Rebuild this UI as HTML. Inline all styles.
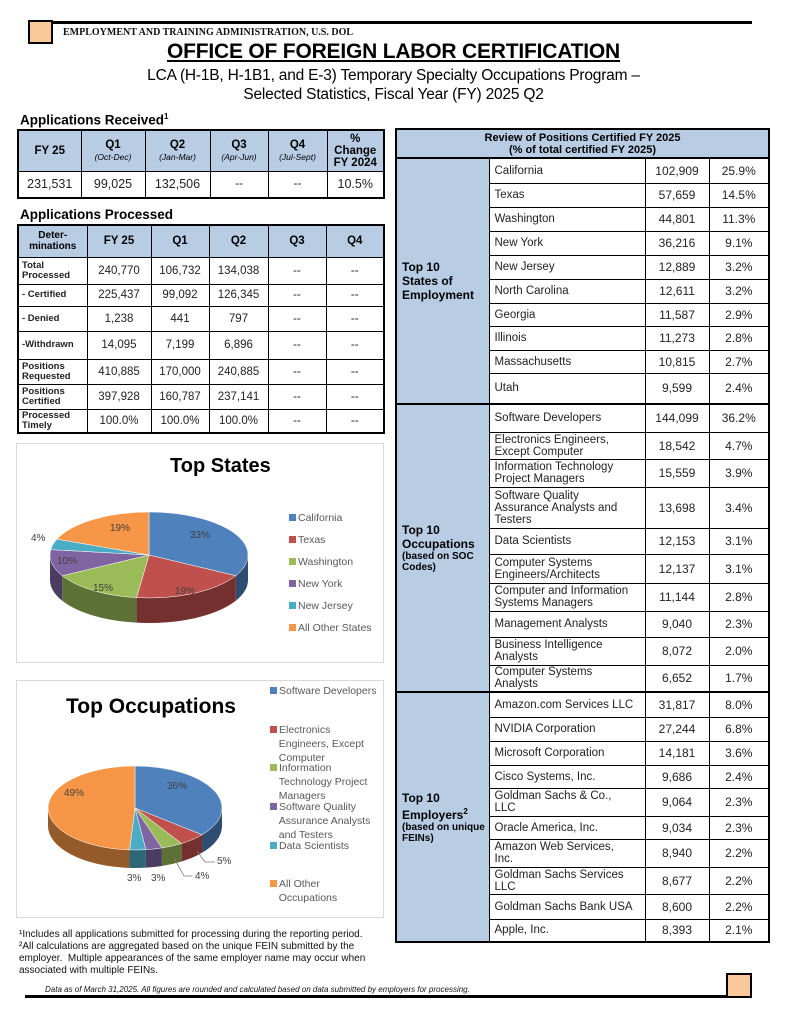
<!DOCTYPE html>
<html><head><meta charset="utf-8">
<style>
*{margin:0;padding:0;box-sizing:border-box}
body{width:787px;height:1024px;background:#fff;position:relative;overflow:hidden;font-family:"Liberation Sans",Arial,sans-serif;color:#000}
.abs{position:absolute}
table{border-collapse:collapse;position:absolute;table-layout:fixed}
td{padding:0;text-align:center;vertical-align:middle;border:1px solid #000;font-size:11.5px;line-height:12px;color:#222;overflow:hidden}
.hd{background:#b8cce4;font-weight:bold;color:#000}
.sub{font-size:8.5px;font-style:italic;font-weight:normal;display:block}
.lb{text-align:left;padding-left:3px;font-weight:bold;font-size:9.5px;line-height:10px}
.nm{text-align:left;padding-left:5px;padding-right:6px;font-size:11.5px;line-height:12px}
.rt td{font-size:12px}
.rt td.nm{font-size:11.5px}
.cat{background:#b8cce4;text-align:left;vertical-align:middle;padding-left:5px;font-weight:bold;font-size:12.5px;line-height:14px;color:#000}
.cat small{font-size:10px;line-height:11px;display:block}
.sep td{border-top:2px solid #000}
.leg{position:absolute;font-size:10.5px;color:#595959;line-height:14px}
.sq{display:inline-block;width:7px;height:7px;margin-right:2px}
</style></head><body>
<div class="abs" style="left:28px;top:20px;width:25px;height:24px;background:#fbc89a;border:2px solid #000"></div>
<div class="abs" style="left:52px;top:21px;width:700px;height:3px;background:#000"></div>
<div class="abs" style="left:63px;top:27px;font-family:'Liberation Serif',serif;font-weight:bold;font-size:10px;color:#111">EMPLOYMENT AND TRAINING ADMINISTRATION, U.S. DOL</div>
<div class="abs" style="left:0;width:787px;top:40px;text-align:center;font-weight:bold;font-size:21px;text-decoration:underline;letter-spacing:-0.2px">OFFICE OF FOREIGN LABOR CERTIFICATION</div>
<div class="abs" style="left:0;width:787px;top:66px;text-align:center;font-size:15.5px;line-height:19px;letter-spacing:-0.2px">LCA (H-1B, H-1B1, and E-3) Temporary Specialty Occupations Program –<br>Selected Statistics, Fiscal Year (FY) 2025 Q2</div>

<div class="abs" style="left:20px;top:112px;font-weight:bold;font-size:13.5px">Applications Received<sup style="font-size:8px">1</sup></div>
<table style="left:17px;top:129px;width:366px;border:2px solid #000">
<colgroup><col style="width:63px"><col style="width:64px"><col style="width:65px"><col style="width:58px"><col style="width:59px"><col style="width:57px"></colgroup>
<tr style="height:41px"><td class="hd">FY 25</td><td class="hd">Q1<span class="sub">(Oct-Dec)</span></td><td class="hd">Q2<span class="sub">(Jan-Mar)</span></td><td class="hd">Q3<span class="sub">(Apr-Jun)</span></td><td class="hd">Q4<span class="sub">(Jul-Sept)</span></td><td class="hd">%<br>Change<br>FY 2024</td></tr>
<tr style="height:27px"><td style="font-size:12.5px">231,531</td><td style="font-size:12.5px">99,025</td><td style="font-size:12.5px">132,506</td><td>--</td><td>--</td><td style="font-size:12.5px">10.5%</td></tr>
</table>

<div class="abs" style="left:20px;top:207px;font-weight:bold;font-size:13.5px">Applications Processed</div>
<table style="left:17px;top:224px;width:366px;border:2px solid #000">
<colgroup><col style="width:69px"><col style="width:64px"><col style="width:58px"><col style="width:59px"><col style="width:58px"><col style="width:58px"></colgroup>
<tr style="height:32px"><td class="hd" style="font-size:10px;line-height:11px">Deter-<br>minations</td><td class="hd">FY 25</td><td class="hd">Q1</td><td class="hd">Q2</td><td class="hd">Q3</td><td class="hd">Q4</td></tr>
<tr style="height:27px"><td class="lb">Total<br>Processed</td><td>240,770</td><td>106,732</td><td>134,038</td><td>--</td><td>--</td></tr>
<tr style="height:22px"><td class="lb">- Certified</td><td>225,437</td><td>99,092</td><td>126,345</td><td>--</td><td>--</td></tr>
<tr style="height:25px"><td class="lb">- Denied</td><td>1,238</td><td>441</td><td>797</td><td>--</td><td>--</td></tr>
<tr style="height:28px"><td class="lb">-Withdrawn</td><td>14,095</td><td>7,199</td><td>6,896</td><td>--</td><td>--</td></tr>
<tr style="height:25px"><td class="lb">Positions<br>Requested</td><td>410,885</td><td>170,000</td><td>240,885</td><td>--</td><td>--</td></tr>
<tr style="height:25px"><td class="lb">Positions<br>Certified</td><td>397,928</td><td>160,787</td><td>237,141</td><td>--</td><td>--</td></tr>
<tr style="height:24px"><td class="lb">Processed<br>Timely</td><td>100.0%</td><td>100.0%</td><td>100.0%</td><td>--</td><td>--</td></tr>
</table>

<table class="rt" style="left:395px;top:128px;width:373px;border:2px solid #000">
<colgroup><col style="width:93px"><col style="width:156px"><col style="width:64px"><col style="width:60px"></colgroup>
<tr style="height:29px"><td colspan="4" class="hd" style="font-size:11px;line-height:12px;border-bottom:2px solid #000">Review of Positions Certified FY 2025<br>(% of total certified FY 2025)</td></tr>
<tr style="height:25px"><td rowspan="10" class="cat">Top 10<br>States of<br>Employment</td><td class="nm">California</td><td>102,909</td><td>25.9%</td></tr>
<tr style="height:24px"><td class="nm">Texas</td><td>57,659</td><td>14.5%</td></tr>
<tr style="height:24px"><td class="nm">Washington</td><td>44,801</td><td>11.3%</td></tr>
<tr style="height:24px"><td class="nm">New York</td><td>36,216</td><td>9.1%</td></tr>
<tr style="height:24px"><td class="nm">New Jersey</td><td>12,889</td><td>3.2%</td></tr>
<tr style="height:24px"><td class="nm">North Carolina</td><td>12,611</td><td>3.2%</td></tr>
<tr style="height:23px"><td class="nm">Georgia</td><td>11,587</td><td>2.9%</td></tr>
<tr style="height:24px"><td class="nm">Illinois</td><td>11,273</td><td>2.8%</td></tr>
<tr style="height:23px"><td class="nm">Massachusetts</td><td>10,815</td><td>2.7%</td></tr>
<tr style="height:31px"><td class="nm">Utah</td><td>9,599</td><td>2.4%</td></tr>
<tr class="sep" style="height:28px"><td rowspan="10" class="cat">Top 10<br>Occupations<small>(based on SOC Codes)</small></td><td class="nm">Software Developers</td><td>144,099</td><td>36.2%</td></tr>
<tr style="height:27px"><td class="nm">Electronics Engineers,<br>Except Computer</td><td>18,542</td><td>4.7%</td></tr>
<tr style="height:28px"><td class="nm">Information Technology<br>Project Managers</td><td>15,559</td><td>3.9%</td></tr>
<tr style="height:41px"><td class="nm">Software Quality<br>Assurance Analysts and<br>Testers</td><td>13,698</td><td>3.4%</td></tr>
<tr style="height:26px"><td class="nm">Data Scientists</td><td>12,153</td><td>3.1%</td></tr>
<tr style="height:29px"><td class="nm">Computer Systems<br>Engineers/Architects</td><td>12,137</td><td>3.1%</td></tr>
<tr style="height:28px"><td class="nm">Computer and Information<br>Systems Managers</td><td>11,144</td><td>2.8%</td></tr>
<tr style="height:26px"><td class="nm">Management Analysts</td><td>9,040</td><td>2.3%</td></tr>
<tr style="height:28px"><td class="nm">Business Intelligence<br>Analysts</td><td>8,072</td><td>2.0%</td></tr>
<tr style="height:27px"><td class="nm">Computer Systems<br>Analysts</td><td>6,652</td><td>1.7%</td></tr>
<tr class="sep" style="height:25px"><td rowspan="10" class="cat">Top 10<br>Employers<sup style="font-size:8px">2</sup><small>(based on unique FEINs)</small></td><td class="nm" style="white-space:nowrap">Amazon.com Services LLC</td><td>31,817</td><td>8.0%</td></tr>
<tr style="height:24px"><td class="nm">NVIDIA Corporation</td><td>27,244</td><td>6.8%</td></tr>
<tr style="height:24px"><td class="nm">Microsoft Corporation</td><td>14,181</td><td>3.6%</td></tr>
<tr style="height:23px"><td class="nm">Cisco Systems, Inc.</td><td>9,686</td><td>2.4%</td></tr>
<tr style="height:28px"><td class="nm">Goldman Sachs &amp; Co.,<br>LLC</td><td>9,064</td><td>2.3%</td></tr>
<tr style="height:23px"><td class="nm">Oracle America, Inc.</td><td>9,034</td><td>2.3%</td></tr>
<tr style="height:28px"><td class="nm">Amazon Web Services,<br>Inc.</td><td>8,940</td><td>2.2%</td></tr>
<tr style="height:27px"><td class="nm">Goldman Sachs Services<br>LLC</td><td>8,677</td><td>2.2%</td></tr>
<tr style="height:25px"><td class="nm" style="white-space:nowrap">Goldman Sachs Bank USA</td><td>8,600</td><td>2.2%</td></tr>
<tr style="height:23px"><td class="nm">Apple, Inc.</td><td>8,393</td><td>2.1%</td></tr>
</table>

<div class="abs" style="left:16px;top:443px;width:368px;height:220px;border:1px solid #d9d9d9"></div>
<div class="abs" style="left:16px;top:680px;width:368px;height:238px;border:1px solid #d9d9d9"></div>
<div class="abs" style="left:170px;top:455px;font-weight:bold;font-size:20px">Top States</div>
<div class="abs" style="left:66px;top:695px;font-weight:bold;font-size:21px">Top Occupations</div>

<svg class="abs" style="left:0;top:0" width="787" height="1024" id="pies" font-family="Liberation Sans, sans-serif" font-size="10" fill="#404040">
<text x="190" y="538" fill="#404040">33%</text>
<text x="175" y="594">19%</text>
<text x="93" y="591">15%</text>
<text x="57" y="564">10%</text>
<text x="110" y="531">19%</text>
<text x="31" y="541">4%</text>
<text x="167" y="789">36%</text>
<text x="64" y="796">49%</text>
<text x="217" y="864">5%</text>
<text x="195" y="879">4%</text>
<text x="127" y="881">3%</text>
<text x="151" y="881">3%</text>
<polyline points="197,851 205,862 215,862" fill="none" stroke="#7f7f7f" stroke-width="0.8"/>
<polyline points="174,858 184,876 192,876" fill="none" stroke="#7f7f7f" stroke-width="0.8"/>
</svg>

<div class="leg" style="left:289px;top:511px">
<div style="height:22px"><span class="sq" style="background:#4f81bd"></span>California</div>
<div style="height:22px"><span class="sq" style="background:#c0504d"></span>Texas</div>
<div style="height:22px"><span class="sq" style="background:#9bbb59"></span>Washington</div>
<div style="height:22px"><span class="sq" style="background:#8064a2"></span>New York</div>
<div style="height:22px"><span class="sq" style="background:#4bacc6"></span>New Jersey</div>
<div style="height:22px"><span class="sq" style="background:#f79646"></span>All Other States</div>
</div>
<div class="leg" style="left:270px;top:684px">
<div style="height:39px"><span class="sq" style="background:#4f81bd"></span>Software Developers</div>
<div style="position:absolute;top:39px;width:110px"><span class="sq" style="background:#c0504d"></span>Electronics<br>&nbsp;&nbsp;&nbsp;Engineers, Except<br>&nbsp;&nbsp;&nbsp;Computer</div>
<div style="position:absolute;top:77px;width:110px"><span class="sq" style="background:#9bbb59"></span>Information<br>&nbsp;&nbsp;&nbsp;Technology Project<br>&nbsp;&nbsp;&nbsp;Managers</div>
<div style="position:absolute;top:116px;width:110px"><span class="sq" style="background:#8064a2"></span>Software Quality<br>&nbsp;&nbsp;&nbsp;Assurance Analysts<br>&nbsp;&nbsp;&nbsp;and Testers</div>
<div style="position:absolute;top:155px;width:110px"><span class="sq" style="background:#4bacc6"></span>Data Scientists</div>
<div style="position:absolute;top:193px;width:110px"><span class="sq" style="background:#f79646"></span>All Other<br>&nbsp;&nbsp;&nbsp;Occupations</div>
</div>

<div class="abs" style="left:19px;top:929px;font-size:10px;line-height:12px;color:#111">¹Includes all applications submitted for processing during the reporting period.<br>²All calculations are aggregated based on the unique FEIN submitted by the<br>employer.&nbsp; Multiple appearances of the same employer name may occur when<br>associated with multiple FEINs.</div>
<div class="abs" style="left:45px;top:985px;font-size:8px;font-style:italic;color:#111">Data as of March 31,2025. All figures are rounded and calculated based on data submitted by employers for processing.</div>
<div class="abs" style="left:25px;top:995px;width:702px;height:3px;background:#000"></div>
<div class="abs" style="left:726px;top:973px;width:26px;height:25px;background:#fbc89a;border:2px solid #000"></div>

<script>
(function(){
var svg=document.getElementById('pies');var NS='http://www.w3.org/2000/svg';
function dark(c,f){var n=parseInt(c.slice(1),16);var r=(n>>16)*f,g=((n>>8)&255)*f,b=(n&255)*f;return 'rgb('+[r,g,b].map(Math.round).join(',')+')';}
function pie(cx,cy,rx,ry,d,sl){
 var P=function(a,dy){return [cx+rx*Math.sin(a),cy-ry*Math.cos(a)+(dy||0)];};
 var g=document.createElementNS(NS,'g');svg.insertBefore(g,svg.firstChild);
 var a=0,parts=[];
 sl.forEach(function(s){var a2=a+s[0]/100*2*Math.PI;parts.push([a,a2,s[1]]);a=a2;});
 parts.forEach(function(p){
  var s=Math.max(p[0],Math.PI/2),e=Math.min(p[1],1.5*Math.PI);
  if(e>s){var A=P(s),B=P(e),C=P(e,d),D=P(s,d);
   var pa=document.createElementNS(NS,'path');
   pa.setAttribute('d','M'+A+' A'+rx+' '+ry+' 0 0 1 '+B+' L'+C+' A'+rx+' '+ry+' 0 0 0 '+D+' Z');
   pa.setAttribute('fill',dark(p[2],0.6));g.appendChild(pa);}
 });
 parts.forEach(function(p){var A=P(p[0]),B=P(p[1]);var L=(p[1]-p[0])>Math.PI?1:0;
  var pa=document.createElementNS(NS,'path');
  pa.setAttribute('d','M'+cx+','+cy+' L'+A+' A'+rx+' '+ry+' 0 '+L+' 1 '+B+' Z');
  pa.setAttribute('fill',p[2]);pa.setAttribute('stroke','#fff');pa.setAttribute('stroke-width','0.5');g.appendChild(pa);});
}
pie(149,555,99,43,25,[[33,'#4f81bd'],[19,'#c0504d'],[15,'#9bbb59'],[10,'#8064a2'],[4,'#4bacc6'],[19,'#f79646']]);
pie(135,808,87,42,18,[[36,'#4f81bd'],[5,'#c0504d'],[4,'#9bbb59'],[3,'#8064a2'],[3,'#4bacc6'],[49,'#f79646']]);
})();
</script>
</body></html>
